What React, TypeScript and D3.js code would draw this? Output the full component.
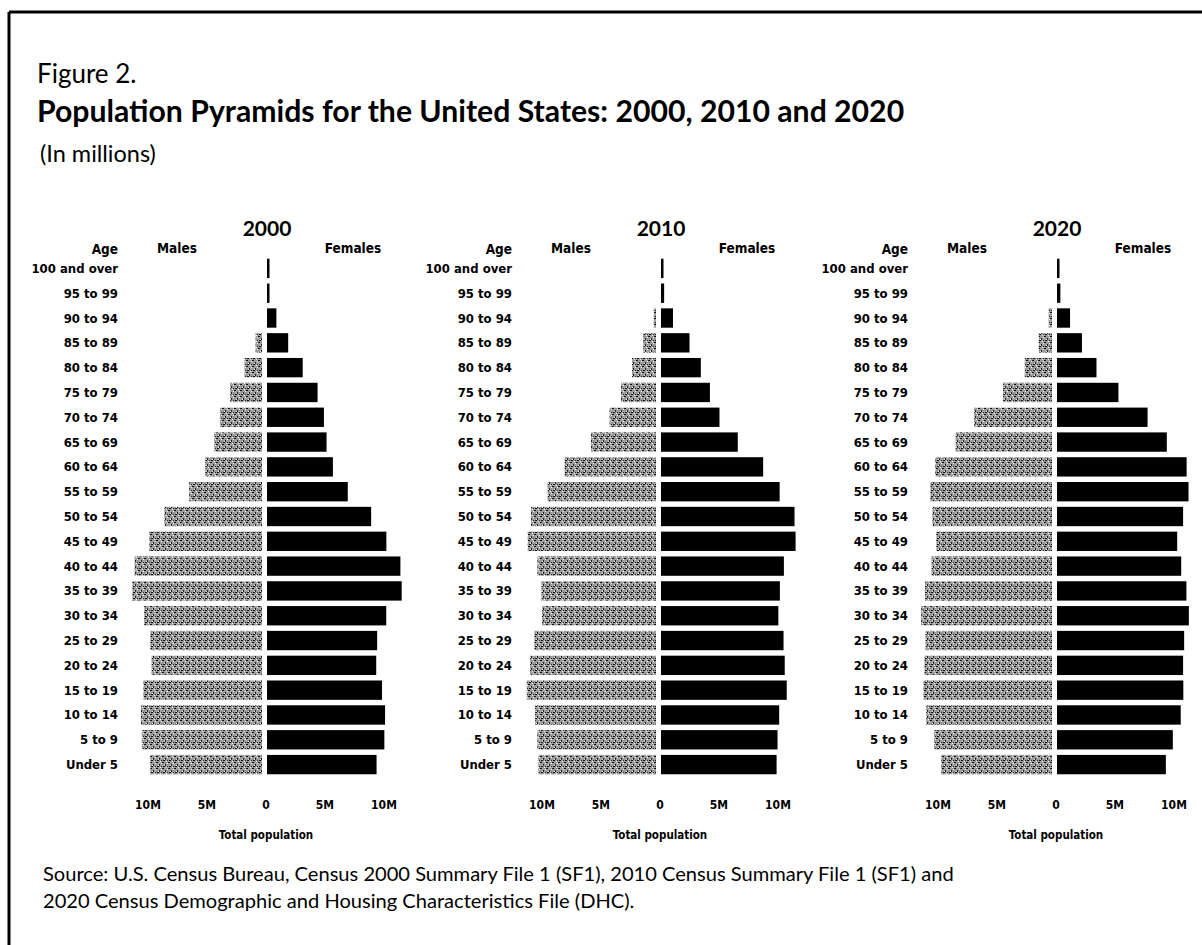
import React from 'react';
import * as d3 from 'd3';

const ageGroups = [
  '100 and over', '95 to 99', '90 to 94', '85 to 89', '80 to 84', '75 to 79', '70 to 74',
  '65 to 69', '60 to 64', '55 to 59', '50 to 54', '45 to 49', '40 to 44', '35 to 39',
  '30 to 34', '25 to 29', '20 to 24', '15 to 19', '10 to 14', '5 to 9', 'Under 5',
];

const years = ['2000', '2010', '2020'];

// millions, ordered as ageGroups (oldest first)
const males2000 = [0.01, 0.06, 0.28, 0.88, 1.83, 3.04, 3.9, 4.4, 5.14, 6.51, 8.61, 9.89, 11.13, 11.32, 10.32, 9.8, 9.69, 10.39, 10.6, 10.52, 9.81];
const females2000 = [0.05, 0.27, 0.88, 1.88, 3.11, 4.37, 4.91, 5.13, 5.67, 6.93, 8.91, 10.2, 11.39, 11.5, 10.19, 9.42, 9.34, 9.83, 10.09, 10.03, 9.37];
const males2010 = [0.01, 0.11, 0.53, 1.41, 2.37, 3.3, 4.27, 5.85, 8.08, 9.52, 10.93, 11.21, 10.39, 10.04, 10.0, 10.64, 11.01, 11.3, 10.58, 10.39, 10.32];
const females2010 = [0.05, 0.35, 1.1, 2.5, 3.46, 4.23, 5.04, 6.59, 8.74, 10.14, 11.4, 11.49, 10.5, 10.16, 10.03, 10.47, 10.57, 10.74, 10.1, 9.96, 9.88];
const males2020 = [0.02, 0.14, 0.63, 1.46, 2.66, 4.48, 6.94, 8.5, 10.24, 10.64, 10.47, 10.14, 10.54, 11.09, 11.43, 11.05, 11.14, 11.23, 11.0, 10.34, 9.73];
const females2020 = [0.08, 0.37, 1.19, 2.2, 3.43, 5.29, 7.76, 9.39, 11.07, 11.23, 10.77, 10.27, 10.61, 11.05, 11.26, 10.86, 10.77, 10.79, 10.57, 9.9, 9.31];

const maleSeries = [males2000, males2010, males2020];
const femaleSeries = [females2000, females2010, females2020];

const maleTicks = [10, 5];
const femaleTicks = [0, 5, 10];

const titleLines = ['Figure 2.', 'Population Pyramids for the United States: 2000, 2010 and 2020', '(In millions)'];
const sourceLines = [
  'Source: U.S. Census Bureau, Census 2000 Summary File 1 (SF1), 2010 Census Summary File 1 (SF1) and',
  '2020 Census Demographic and Housing Characteristics File (DHC).',
];

const W = 1202;
const H = 945;
const centers = [266, 660, 1056];
const halfWidth = 118; // px for 10 million
const labelFont = "'DejaVu Sans Condensed', 'DejaVu Sans', sans-serif";
const headFont = "Lato, 'Open Sans', sans-serif";

const fmt = (v: number) => (v === 0 ? '0' : `${v}M`);

function Pyramid({ year, males, females, cx }: { year: string; males: number[]; females: number[]; cx: number }) {
  const y = d3.scaleBand<string>().domain(ageGroups).range([256, 777]).paddingInner(0.22).paddingOuter(0.11);
  const xL = d3.scaleLinear().domain([0, 10]).range([cx, cx - halfWidth]);
  const xR = d3.scaleLinear().domain([0, 10]).range([cx, cx + halfWidth]);
  const bw = y.bandwidth();
  const labelX = cx - 148;
  return (
    <g>
      <text x={cx + 1} y={227} textAnchor="middle" dominantBaseline="central" fontFamily={headFont} fontSize={21} fontWeight={700}>{year}</text>
      <text x={labelX} y={249} textAnchor="end" dominantBaseline="central" fontFamily={labelFont} fontSize={13.5} fontWeight={700}>Age</text>
      <text x={cx - 89} y={248} textAnchor="middle" dominantBaseline="central" fontFamily={labelFont} fontSize={13.5} fontWeight={700}>Males</text>
      <text x={cx + 87} y={248} textAnchor="middle" dominantBaseline="central" fontFamily={labelFont} fontSize={13.5} fontWeight={700}>Females</text>
      {ageGroups.map((a, i) => {
        const yy = y(a) as number;
        const mx0 = xL(males[i]);
        const mx1 = xL(0) - 4;
        const fx0 = xR(0) + 1;
        const fw = Math.max(xR(females[i]) - fx0, 2.5);
        return (
          <g key={a}>
            <text x={labelX} y={yy + bw / 2} textAnchor="end" dominantBaseline="central" fontFamily={labelFont} fontSize={13} fontWeight={700}>{a}</text>
            {mx1 - mx0 > 0 && <rect x={mx0} y={yy} width={mx1 - mx0} height={bw} fill="url(#stipple)" />}
            <rect x={fx0} y={yy} width={fw} height={bw} fill="#000" />
          </g>
        );
      })}
      {maleTicks.map((t) => (
        <text key={'m' + t} x={xL(t)} y={805} textAnchor="middle" dominantBaseline="central" fontFamily={labelFont} fontSize={12} fontWeight={700}>{fmt(t)}</text>
      ))}
      {femaleTicks.map((t) => (
        <text key={'f' + t} x={xR(t)} y={805} textAnchor="middle" dominantBaseline="central" fontFamily={labelFont} fontSize={12} fontWeight={700}>{fmt(t)}</text>
      ))}
      <text x={cx} y={835} textAnchor="middle" dominantBaseline="central" fontFamily={labelFont} fontSize={11.5} fontWeight={700}>Total population</text>
    </g>
  );
}

export default function App() {
  return (
    <svg width={W} height={H} viewBox={`0 0 ${W} ${H}`} style={{ position: 'absolute', left: 0, top: 0, background: '#fff' }}>
      <defs>
        <pattern id="stipple" width={6} height={6} patternUnits="userSpaceOnUse">
          <rect width={6} height={6} fill="#9c9c9c" />
          <rect x={0} y={0} width={2} height={1} fill="#111" />
          <rect x={3} y={2} width={1} height={2} fill="#222" />
          <rect x={1} y={4} width={2} height={1} fill="#111" />
          <rect x={5} y={1} width={1} height={1} fill="#f4f4f4" />
          <rect x={2} y={3} width={1} height={1} fill="#e8e8e8" />
          <rect x={4} y={5} width={1} height={1} fill="#f4f4f4" />
          <rect x={5} y={4} width={1} height={1} fill="#333" />
        </pattern>
      </defs>
      <rect width={W} height={H} fill="#fff" />
      <line x1={9} y1={12} x2={W} y2={12} stroke="#000" strokeWidth={3} />
      <line x1={9} y1={12} x2={9} y2={H} stroke="#000" strokeWidth={3} />
      <text x={37} y={73} dominantBaseline="central" fontFamily={headFont} fontSize={26}>{titleLines[0]}</text>
      <text x={37} y={110} dominantBaseline="central" fontFamily={headFont} fontSize={30.2} fontWeight={700}>{titleLines[1]}</text>
      <text x={40} y={153} dominantBaseline="central" fontFamily={headFont} fontSize={23.5}>{titleLines[2]}</text>
      {years.map((yr, i) => (
        <Pyramid key={yr} year={yr} males={maleSeries[i]} females={femaleSeries[i]} cx={centers[i]} />
      ))}
      <text x={43} y={873} dominantBaseline="central" fontFamily={headFont} fontSize={20.1}>{sourceLines[0]}</text>
      <text x={43} y={900} dominantBaseline="central" fontFamily={headFont} fontSize={20.1}>{sourceLines[1]}</text>
    </svg>
  );
}
